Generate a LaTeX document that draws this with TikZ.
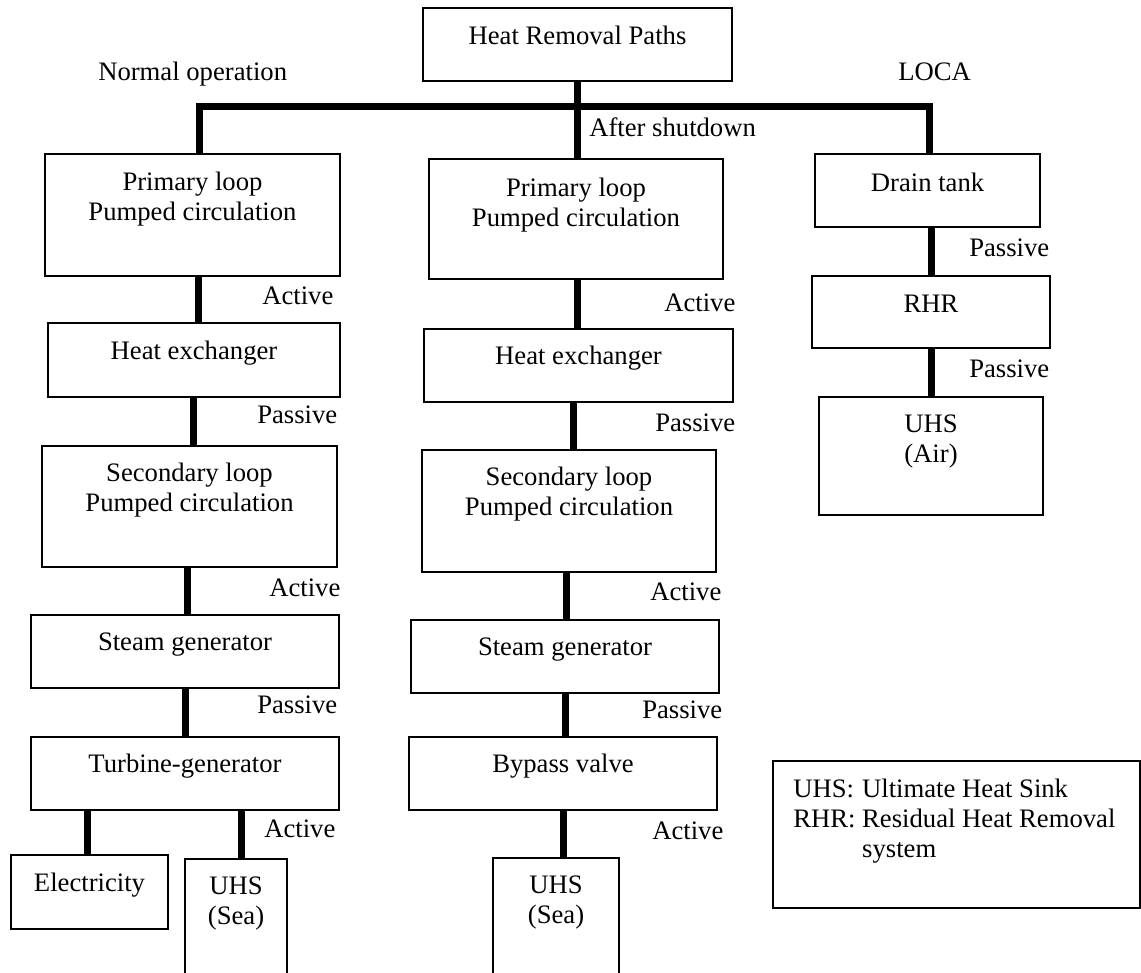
\documentclass[tikz,border=0pt]{standalone}
\usepackage{fontspec}
\setmainfont{Liberation Serif}
\usetikzlibrary{fit,calc}

\tikzset{
  blk/.style={draw, line width=1.5pt, inner sep=0pt},
  lnk/.style={line width=5.25pt},
  btxt/.style={anchor=north, inner sep=0pt, align=center},
  tag/.style={anchor=west, inner sep=0.75pt},
}

\begin{document}
\begin{tikzpicture}[x=0.75pt,y=0.75pt,yscale=-1,font=\fontsize{20}{22.5}\selectfont]
\useasboundingbox (0,0) rectangle (1141,972);

% Root
\node[blk, fit={(423,8) (732,81)}] (top) {};
\node[btxt] (topT) at ($(top.north)+(0,19)$) {Heat Removal Paths};

% Normal operation column
\node[blk, fit={(45,154) (340,276)}] (lprim) {};
\node[blk, fit={(48,323) (340,397)}] (lhx) {};
\node[blk, fit={(42,446) (337,567)}] (lsec) {};
\node[blk, fit={(31,615) (339,688)}] (lsg) {};
\node[blk, fit={(31,737) (339,810)}] (ltg) {};
\node[blk, fit={(11,855) (168,929)}] (lelec) {};
\node[blk, fit={(185,859) (287,995)}] (lsea) {};

\node[btxt] (lprimT) at ($(lprim.north)+(0,19)$) {Primary loop\\Pumped circulation};
\node[btxt] (lhxT) at ($(lhx.north)+(0,19)$) {Heat exchanger};
\node[btxt] (lsecT) at ($(lsec.north)+(0,18)$) {Secondary loop\\Pumped circulation};
\node[btxt] (lsgT) at ($(lsg.north)+(0,19)$) {Steam generator};
\node[btxt] (ltgT) at ($(ltg.north)+(0,18)$) {Turbine-generator};
\node[btxt] (lelecT) at ($(lelec.north)+(0,19)$) {Electricity};
\node[btxt] (lseaT) at ($(lsea.north)+(0,19)$) {UHS\\(Sea)};

% After shutdown column
\node[blk, fit={(429,159) (723,279)}] (mprim) {};
\node[blk, fit={(424,329) (733,402)}] (mhx) {};
\node[blk, fit={(422,450) (716,572)}] (msec) {};
\node[blk, fit={(411,620) (719,693)}] (msg) {};
\node[blk, fit={(409,737) (717,810)}] (mbyp) {};
\node[blk, fit={(493,858) (619,995)}] (msea) {};

\node[btxt] (mprimT) at ($(mprim.north)+(0,20)$) {Primary loop\\Pumped circulation};
\node[btxt] (mhxT) at ($(mhx.north)+(0,18)$) {Heat exchanger};
\node[btxt] (msecT) at ($(msec.north)+(0,18)$) {Secondary loop\\Pumped circulation};
\node[btxt] (msgT) at ($(msg.north)+(0,19)$) {Steam generator};
\node[btxt] (mbypT) at ($(mbyp.north)+(0,18)$) {Bypass valve};
\node[btxt] (mseaT) at ($(msea.north)+(0,19)$) {UHS\\(Sea)};

% LOCA column
\node[blk, fit={(815,154) (1040,227)}] (drain) {};
\node[blk, fit={(812,276) (1050,348)}] (rhr) {};
\node[blk, fit={(819,397) (1043,515)}] (air) {};

\node[btxt] (drainT) at ($(drain.north)+(0,20)$) {Drain tank};
\node[btxt] (rhrT) at ($(rhr.north)+(0,20)$) {RHR};
\node[btxt] (airT) at ($(air.north)+(0,19)$) {UHS\\(Air)};

% Branch bus
\coordinate (busL) at (199,106);
\coordinate (busR) at (929,106);
\draw[lnk] (top.south) -- (top.south |- mprim.north);
\draw[lnk] (busL |- lprim.north) -- (busL) -- (busR) -- (busR |- drain.north);

% Links, left
\draw[lnk] (lprim.south -| 198,0) -- (lhx.north -| 198,0);
\draw[lnk] (lhx.south -| 193,0) -- (lsec.north -| 193,0);
\draw[lnk] (lsec.south -| 187,0) -- (lsg.north -| 187,0);
\draw[lnk] (lsg.south -| 185,0) -- (ltg.north -| 185,0);
\draw[lnk] (ltg.south -| 87,0) -- (lelec.north -| 87,0);
\draw[lnk] (ltg.south -| 241,0) -- (lsea.north -| 241,0);

% Links, middle
\draw[lnk] (mprim.south -| 577,0) -- (mhx.north -| 577,0);
\draw[lnk] (mhx.south -| 573,0) -- (msec.north -| 573,0);
\draw[lnk] (msec.south -| 566,0) -- (msg.north -| 566,0);
\draw[lnk] (msg.south -| 565,0) -- (mbyp.north -| 565,0);
\draw[lnk] (mbyp.south -| 563,0) -- (msea.north -| 563,0);

% Links, right
\draw[lnk] (drain.south -| 931,0) -- (rhr.north -| 931,0);
\draw[lnk] (rhr.south -| 931,0) -- (air.north -| 931,0);

% Branch and link tags
\node[tag] (normal) at (97,74) {Normal operation};
\node[tag] (loca) at (897,72) {LOCA};
\node[tag] (after) at (588,127) {After shutdown};

\node[tag] (tagL1) at (261,296) {Active};
\node[tag] (tagL2) at (256,415) {Passive};
\node[tag] (tagL3) at (268,588) {Active};
\node[tag] (tagL4) at (256,705) {Passive};
\node[tag] (tagL5) at (263,829) {Active};

\node[tag] (tagM1) at (663,303) {Active};
\node[tag] (tagM2) at (654,423) {Passive};
\node[tag] (tagM3) at (649,592) {Active};
\node[tag] (tagM4) at (641,710) {Passive};
\node[tag] (tagM5) at (651,831) {Active};

\node[tag] (tagR1) at (968,248) {Passive};
\node[tag] (tagR2) at (968,369) {Passive};

% Key
\node[blk, fit={(773,761) (1140,908)}] (key) {};
\node[anchor=base west, inner sep=0pt] (keyT) at (793,797)
  {\begin{tabular}[t]{@{}l@{\ }l@{}}UHS: & Ultimate Heat Sink\\RHR: & Residual Heat Removal\\ & system\end{tabular}};

\end{tikzpicture}
\end{document}
